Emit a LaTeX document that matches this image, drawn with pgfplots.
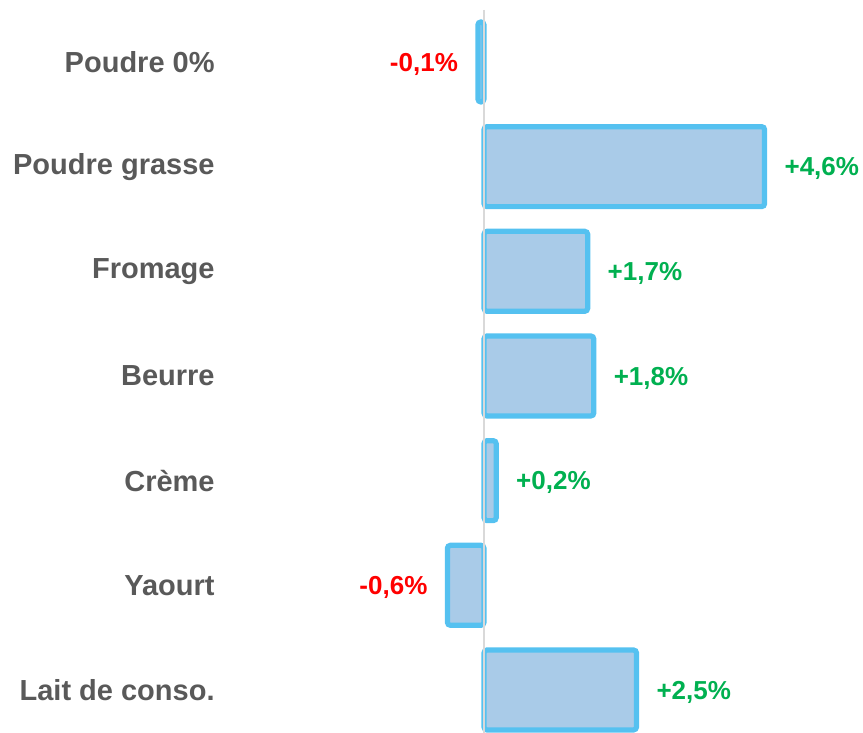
\documentclass[border=0pt]{standalone}
\usepackage{fontspec}
\setmainfont{Liberation Sans}
\usepackage{pgfplots}
\pgfplotsset{compat=1.18}
\definecolor{barfill}{HTML}{A9CBE8}
\definecolor{barline}{HTML}{55C1F0}
\definecolor{lblgray}{HTML}{595959}
\definecolor{pos}{HTML}{00B050}
\definecolor{neg}{HTML}{FF0000}
\definecolor{zeroline}{HTML}{D9D9D9}
\begin{document}
\begin{tikzpicture}[x=1pt,y=1pt]
\useasboundingbox (0,0) rectangle (431.5,366.5);
\begin{axis}[
 at={(107.5pt,0pt)}, anchor=south west,
 scale only axis, width=324pt, height=366.5pt,
 xmin=-4.410, xmax=6.213,
 y dir=reverse, ymin=-0.592, ymax=6.411,
 axis line style={draw=none},
 xtick=\empty,
 ytick={0,...,6},
 yticklabels={Poudre 0\%, Poudre grasse, Fromage, Beurre, Crème, Yaourt, Lait de conso.},
 major tick length=0pt,
 yticklabel style={font=\fontsize{14.5}{16}\selectfont\bfseries, text=lblgray, inner sep=0pt, anchor=east},
 bar width=0.764,
 clip=false,
 point meta=explicit symbolic,
]
\addplot[xbar, bar shift=0pt, fill=barfill, draw=barline, line width=2.6pt, rounded corners=1.5pt,
  nodes near coords, nodes near coords style={anchor=west, inner sep=0pt, xshift=8.7pt, yshift=-1pt, text=pos, font=\fontsize{13}{15}\selectfont\bfseries}]
  coordinates {(4.6,1)[+4,6\%] (1.7,2)[+1,7\%] (1.8,3)[+1,8\%] (0.2,4)[+0,2\%] (2.5,6)[+2,5\%]};
\addplot[xbar, bar shift=0pt, fill=barfill, draw=barline, line width=2.6pt, rounded corners=1.5pt,
  nodes near coords, nodes near coords style={anchor=east, inner sep=0pt, xshift=-8.7pt, yshift=-1pt, text=neg, font=\fontsize{13}{15}\selectfont\bfseries}]
  coordinates {(-0.1,0)[-0,1\%] (-0.6,5)[-0,6\%]};
\addplot[zeroline, line width=0.75pt, mark=none, sharp plot] coordinates {(0,-0.497) (0,6.411)};
\end{axis}
\end{tikzpicture}
\end{document}
